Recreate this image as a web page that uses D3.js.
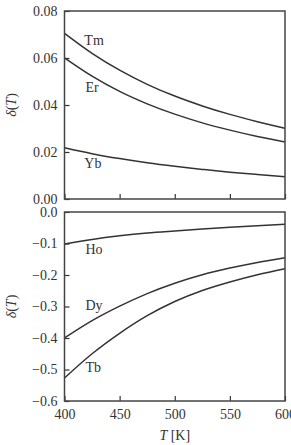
<!DOCTYPE html>
<html>
<head>
<meta charset="utf-8">
<script src="https://cdn.jsdelivr.net/npm/d3@7"></script>
<style>
  body { margin: 0; background: #fff; }
  svg { display: block; font-family: "Liberation Serif", serif; }
</style>
</head>
<body>
<div id="chart"></div>
<script>
"use strict";

// temperatures (K)
var temps = [400, 425, 450, 475, 500, 525, 550, 575, 600];

// top panel series
var tmVals = [0.0705, 0.0620, 0.0548, 0.0488, 0.0438, 0.0396, 0.0360, 0.0329, 0.0301];
var erVals = [0.0601, 0.0523, 0.0458, 0.0405, 0.0361, 0.0324, 0.0293, 0.0266, 0.0243];
var ybVals = [0.0218, 0.0193, 0.0172, 0.0154, 0.0139, 0.0126, 0.0114, 0.0104, 0.0095];

// bottom panel series
var hoVals = [-0.1016, -0.0870, -0.0755, -0.0665, -0.0600, -0.0540, -0.0485, -0.0435, -0.0390];
var dyVals = [-0.400, -0.345, -0.299, -0.259, -0.226, -0.199, -0.178, -0.160, -0.145];
var tbVals = [-0.527, -0.450, -0.385, -0.329, -0.284, -0.249, -0.222, -0.199, -0.180];

var xTicks = [400, 450, 500, 550, 600];
var topTicks = [0, 0.02, 0.04, 0.06, 0.08];
var botTicks = [0, -0.1, -0.2, -0.3, -0.4, -0.5, -0.6];

// label anchors (T, value)
var topLabels = [["Tm", 418, 0.0655], ["Er", 419, 0.0457], ["Yb", 418, 0.0132]];
var botLabels = [["Ho", 419, -0.132], ["Dy", 419, -0.310], ["Tb", 419, -0.509]];

var width = 291, height = 445;
var left = 64.5, right = 285;
var ink = "#333";

var svg = d3.select("#chart").append("svg")
  .attr("width", width)
  .attr("height", height);

var x = d3.scaleLinear().domain([400, 600]).range([left, right]);

function panel(top, bottom, domain, ticks, fmt, series, labels, showX){
  var y = d3.scaleLinear().domain(domain).range([bottom, top]);
  var g = svg.append("g");

  var line = d3.line()
    .x(function(d){ return x(d[0]); })
    .y(function(d){ return y(d[1]); })
    .curve(d3.curveMonotoneX);

  series.forEach(function(vals){
    g.append("path")
      .datum(temps.map(function(t, i){ return [t, vals[i]]; }))
      .attr("d", line)
      .attr("fill", "none")
      .attr("stroke", ink)
      .attr("stroke-width", 1.5);
  });

  var ya = g.append("g")
    .attr("transform", "translate(" + left + ",0)")
    .call(d3.axisLeft(y).tickValues(ticks).tickSizeInner(-5).tickSizeOuter(0).tickPadding(7).tickFormat(fmt));
  var xa = g.append("g")
    .attr("transform", "translate(0," + bottom + ")")
    .call(d3.axisBottom(x).tickValues(xTicks).tickSizeInner(-5).tickSizeOuter(0).tickPadding(8)
      .tickFormat(showX ? d3.format("d") : function(){ return ""; }));

  [ya, xa].forEach(function(a){
    a.select(".domain").remove();
    a.selectAll("line").attr("stroke", ink).attr("stroke-width", 1.2);
    a.selectAll("text")
      .attr("fill", ink)
      .style("font-family", "Liberation Serif, serif")
      .style("font-size", "14px");
  });

  g.append("rect")
    .attr("x", left).attr("y", top)
    .attr("width", right - left).attr("height", bottom - top)
    .attr("fill", "none")
    .attr("stroke", "#444")
    .attr("stroke-width", 1.5);

  g.selectAll("text.lbl")
    .data(labels)
    .enter().append("text")
      .attr("class", "lbl")
      .attr("x", function(d){ return x(d[1]); })
      .attr("y", function(d){ return y(d[2]); })
      .attr("fill", ink)
      .style("font-size", "14px")
      .text(function(d){ return d[0]; });

  var yl = g.append("text")
    .attr("transform", "translate(16," + ((top + bottom) / 2) + ") rotate(-90)")
    .attr("text-anchor", "middle")
    .attr("fill", ink)
    .style("font-size", "14px");
  yl.append("tspan").attr("font-style", "italic").text("δ");
  yl.append("tspan").text("(");
  yl.append("tspan").attr("font-style", "italic").text("T");
  yl.append("tspan").text(")");
}

panel(11, 199, [0, 0.08], topTicks, d3.format(".2f"),
  [tmVals, erVals, ybVals], topLabels, false);

panel(212, 401, [-0.6, 0], botTicks, function(d){ return d3.format(".1f")(d).replace("-", "−"); },
  [hoVals, dyVals, tbVals], botLabels, true);

var xl = svg.append("text")
  .attr("x", x(500))
  .attr("y", 440)
  .attr("text-anchor", "middle")
  .attr("fill", ink)
  .style("font-size", "14px");
xl.append("tspan").attr("font-style", "italic").text("T");
xl.append("tspan").text(" [K]");
</script>
</body>
</html>
